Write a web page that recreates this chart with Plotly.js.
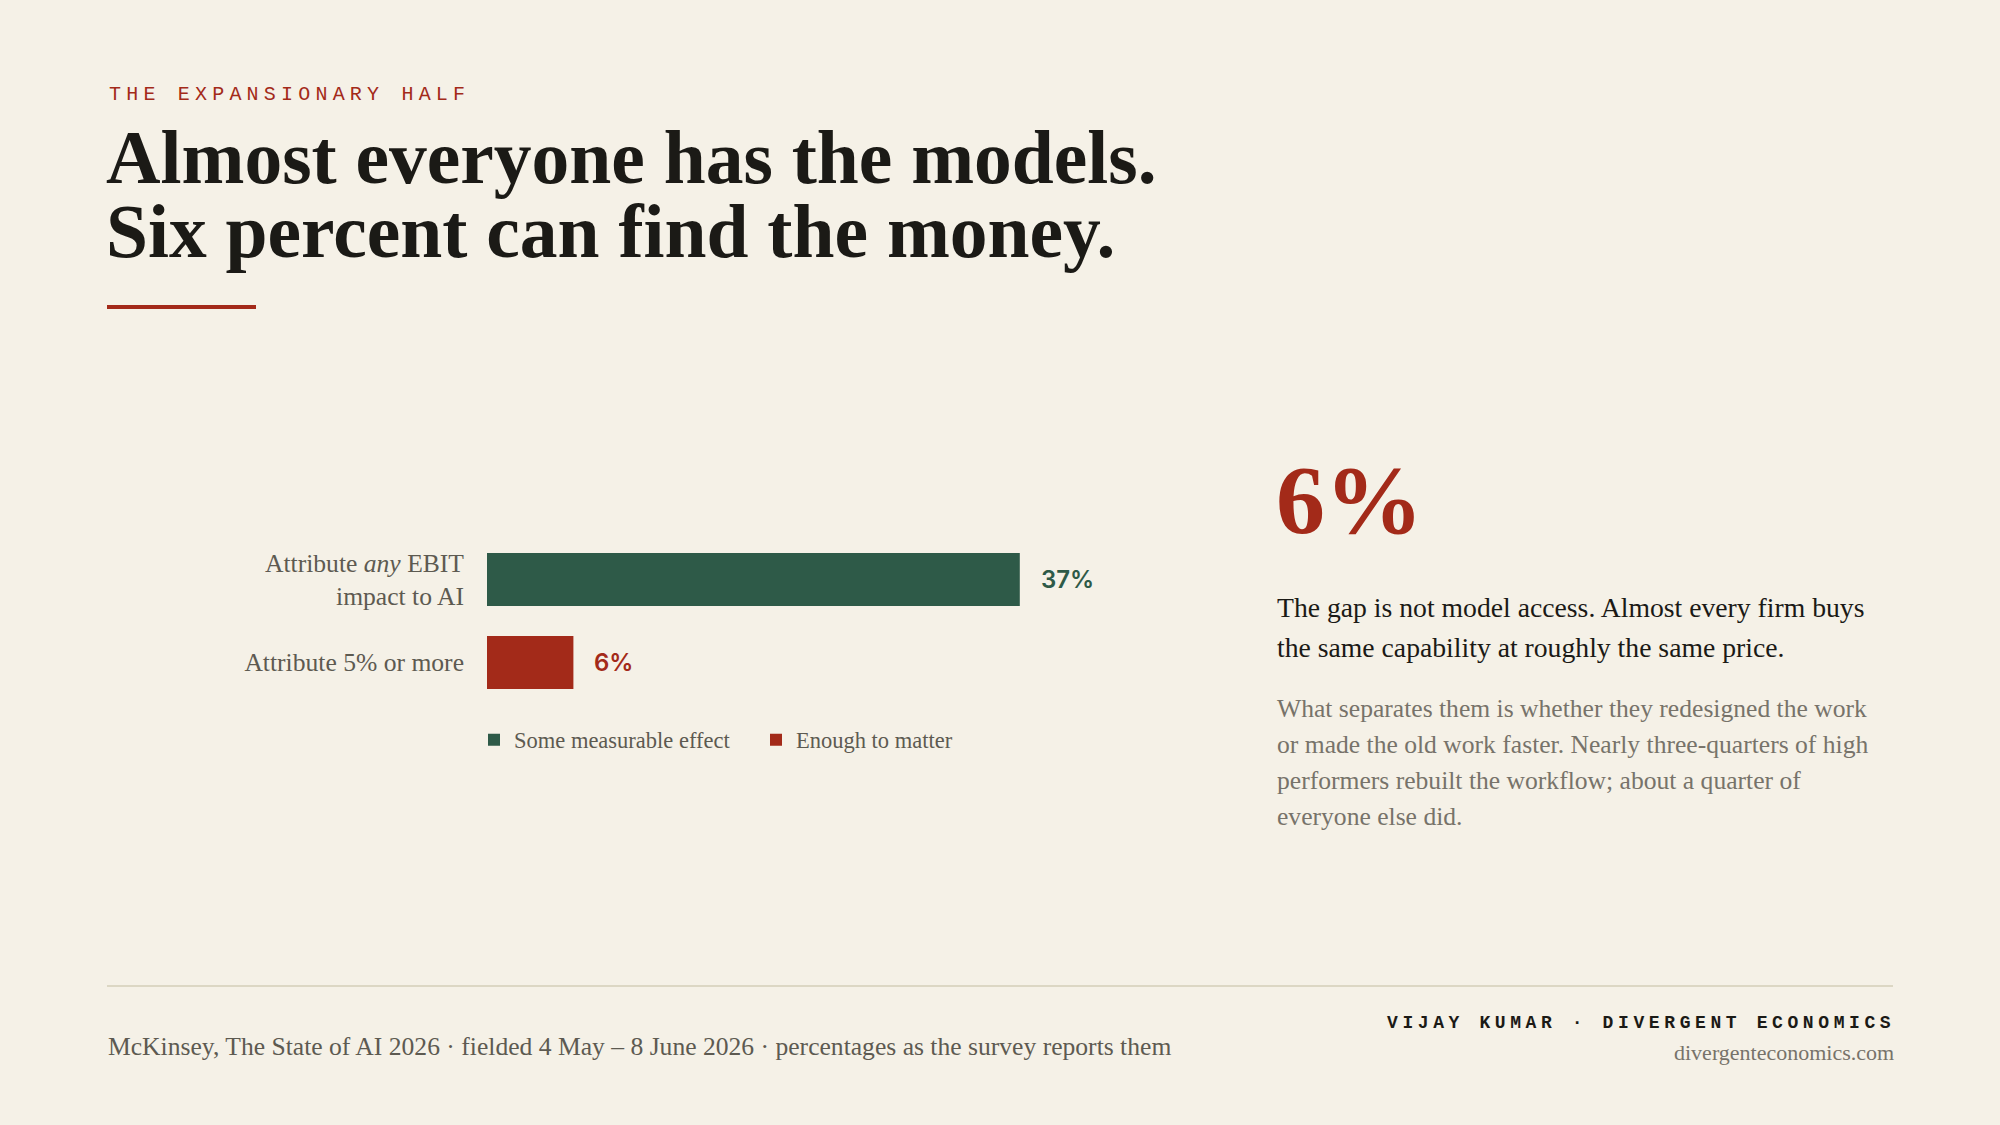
<!DOCTYPE html>
<html>
<head>
<meta charset="utf-8">
<script src="https://cdn.plot.ly/plotly-3.0.1.min.js"></script>
<style>
  html, body { margin: 0; padding: 0; background: #f5f1e7; }
  #chart { width: 2000px; height: 1125px; }
</style>
</head>
<body>
<div id="chart"></div>
<script>
// data
const categories = ['Attribute <i>any</i> EBIT<br>impact to AI', 'Attribute 5% or more'];
const shares = [37, 6];
const seriesNames = ['Some measurable effect', 'Enough to matter'];
const valueLabels = ['37%', '6%'];

const paragraphOne = [
  'The gap is not model access. Almost every firm buys',
  'the same capability at roughly the same price.'
];
const paragraphTwo = [
  'What separates them is whether they redesigned the work',
  'or made the old work faster. Nearly three-quarters of high',
  'performers rebuilt the workflow; about a quarter of',
  'everyone else did.'
];

const BG = '#f5f1e7';
const GREEN = '#2e5a48';
const RED = '#a32a19';
const INK = '#1b1a16';
const GREY = '#5d5a51';
const LIGHT = '#77736a';
const serif = '"Liberation Serif", "DejaVu Serif", serif';
const mono = '"Liberation Mono", "DejaVu Sans Mono", monospace';
const sans = 'Inter, Roboto, sans-serif';
const colors = [GREEN, RED];

const W = 2000, H = 1125;
// pixel helpers, paper coordinates
function px(x) { return x / W; }
function py(y) { return 1 - y / H; }

function note(text, x, y, font, anchor) {
  return {
    text: text, xref: 'paper', yref: 'paper', x: px(x), y: py(y),
    xanchor: anchor || 'left', yanchor: 'middle', showarrow: false,
    align: anchor || 'left', font: font
  };
}

// one trace per series so the legend shows both
const data = shares.map((v, i) => ({
  type: 'bar',
  orientation: 'h',
  y: [categories[i]],
  x: [v],
  name: seriesNames[i],
  width: 0.64,
  marker: { color: colors[i] },
  hoverinfo: 'skip'
}));

let annotations = [
  note('<span style="letter-spacing:5.2px">THE EXPANSIONARY HALF</span>', 107, 95,
    { family: mono, size: 20, color: RED }),
  note('Almost everyone has the models.', 104, 157,
    { family: serif, size: 75.5, color: INK, weight: 700 }),
  note('Six percent can find the money.', 104, 231,
    { family: serif, size: 75.5, color: INK, weight: 700 }),
  note('6%', 1274, 500,
    { family: serif, size: 98, color: RED, weight: 700 }),
  note('McKinsey, The State of AI 2026 · fielded 4 May – 8 June 2026 · percentages as the survey reports them', 106, 1046,
    { family: serif, size: 25.6, color: GREY }),
  note('<span style="letter-spacing:4.6px">VIJAY KUMAR · DIVERGENT ECONOMICS</span>', 1897, 1023,
    { family: mono, size: 18, color: INK, weight: 700 }, 'right'),
  note('divergenteconomics.com', 1896, 1052,
    { family: serif, size: 22, color: LIGHT }, 'right')
];

paragraphOne.forEach((line, i) => {
  annotations.push(note(line, 1275, 607 + i * 40, { family: serif, size: 27.7, color: INK }));
});
paragraphTwo.forEach((line, i) => {
  annotations.push(note(line, 1275, 708 + i * 36, { family: serif, size: 25.6, color: LIGHT }));
});

// value labels sit just past the end of each bar
shares.forEach((v, i) => {
  annotations.push({
    text: valueLabels[i], xref: 'x', yref: 'y', x: v, y: i,
    xanchor: 'left', yanchor: 'middle', xshift: 19, showarrow: false,
    font: { family: sans, size: 24, color: colors[i], weight: 600 }
  });
});

const layout = {
  width: W,
  height: H,
  paper_bgcolor: BG,
  plot_bgcolor: BG,
  margin: { l: 0, r: 0, t: 0, b: 0 },
  barmode: 'overlay',
  showlegend: true,
  legend: {
    orientation: 'h',
    x: px(474), y: py(740), xanchor: 'left', yanchor: 'middle',
    font: { family: serif, size: 22.5, color: GREY },
    bgcolor: 'rgba(0,0,0,0)',
    entrywidth: 237,
    traceorder: 'normal'
  },
  xaxis: {
    domain: [px(487), px(1063)],
    range: [0, 40],
    showgrid: false, zeroline: false, showline: false,
    showticklabels: false, ticks: '', fixedrange: true
  },
  yaxis: {
    type: 'category',
    categoryorder: 'array',
    categoryarray: categories,
    domain: [py(704), py(538)],
    range: [1.5, -0.5],
    showgrid: false, zeroline: false, showline: false, ticks: '',
    ticklabelstandoff: 22,
    tickfont: { family: serif, size: 25.6, color: GREY },
    fixedrange: true
  },
  shapes: [
    { type: 'line', xref: 'paper', yref: 'paper', x0: px(107), x1: px(256), y0: py(307), y1: py(307),
      line: { color: RED, width: 4 } },
    { type: 'line', xref: 'paper', yref: 'paper', x0: px(107), x1: px(1893), y0: py(986), y1: py(986),
      line: { color: '#dcd7c4', width: 2 } }
  ],
  annotations: annotations
};

Plotly.newPlot('chart', data, layout, { displayModeBar: false, staticPlot: true });
</script>
</body>
</html>
